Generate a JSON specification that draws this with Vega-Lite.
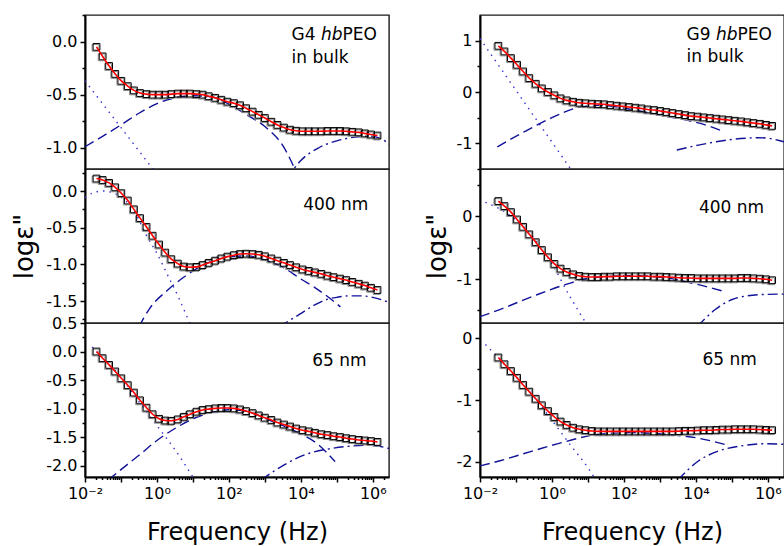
{
"$schema":"https://vega.github.io/schema/vega-lite/v6.json",
"padding":{"left":11,"top":6,"right":0,"bottom":0},
"config":{"font":"DejaVu Sans","view":{"stroke":"#1a1a1a","strokeWidth":1.4},
"axis":{"labelFont":"DejaVu Sans","labelFontSize":16,"labelColor":"#000","domainColor":"#000","domainWidth":2,"tickColor":"#000","tickWidth":1.5,"grid":false,"labelFlush":false,"labelOverlap":false,"labelPadding":3,"titleFont":"DejaVu Sans","titleFontWeight":"normal","titleColor":"#000"}},
"datasets":{
"A":[{"c":"p","x":-1.68,"y":-0.05},{"c":"p","x":-1.51,"y":-0.14},{"c":"p","x":-1.33,"y":-0.23},{"c":"p","x":-1.16,"y":-0.305},{"c":"p","x":-0.99,"y":-0.37},{"c":"p","x":-0.81,"y":-0.42},{"c":"p","x":-0.64,"y":-0.46},{"c":"p","x":-0.47,"y":-0.485},{"c":"p","x":-0.29,"y":-0.495},{"c":"p","x":-0.12,"y":-0.5},{"c":"p","x":0.06,"y":-0.5},{"c":"p","x":0.23,"y":-0.5},{"c":"p","x":0.4,"y":-0.495},{"c":"p","x":0.58,"y":-0.49},{"c":"p","x":0.75,"y":-0.49},{"c":"p","x":0.92,"y":-0.49},{"c":"p","x":1.1,"y":-0.495},{"c":"p","x":1.27,"y":-0.5},{"c":"p","x":1.44,"y":-0.515},{"c":"p","x":1.62,"y":-0.53},{"c":"p","x":1.79,"y":-0.548},{"c":"p","x":1.96,"y":-0.566},{"c":"p","x":2.14,"y":-0.58},{"c":"p","x":2.31,"y":-0.6},{"c":"p","x":2.48,"y":-0.628},{"c":"p","x":2.66,"y":-0.66},{"c":"p","x":2.83,"y":-0.69},{"c":"p","x":3.0,"y":-0.72},{"c":"p","x":3.18,"y":-0.755},{"c":"p","x":3.35,"y":-0.785},{"c":"p","x":3.53,"y":-0.81},{"c":"p","x":3.7,"y":-0.83},{"c":"p","x":3.87,"y":-0.84},{"c":"p","x":4.05,"y":-0.845},{"c":"p","x":4.22,"y":-0.845},{"c":"p","x":4.39,"y":-0.845},{"c":"p","x":4.57,"y":-0.845},{"c":"p","x":4.74,"y":-0.842},{"c":"p","x":4.91,"y":-0.842},{"c":"p","x":5.09,"y":-0.842},{"c":"p","x":5.26,"y":-0.845},{"c":"p","x":5.43,"y":-0.85},{"c":"p","x":5.61,"y":-0.855},{"c":"p","x":5.78,"y":-0.865},{"c":"p","x":5.95,"y":-0.875},{"c":"p","x":6.13,"y":-0.885},
{"c":"dot","x":-2,"y":-0.37},{"c":"dot","x":0,"y":-1.25},
{"c":"dash","x":-2,"y":-0.99},{"c":"dash","x":-1.5,"y":-0.89},{"c":"dash","x":-1,"y":-0.785},{"c":"dash","x":-0.5,"y":-0.675},{"c":"dash","x":0,"y":-0.585},{"c":"dash","x":0.5,"y":-0.53},{"c":"dash","x":1,"y":-0.51},{"c":"dash","x":1.5,"y":-0.52},{"c":"dash","x":2,"y":-0.59},{"c":"dash","x":2.5,"y":-0.69},{"c":"dash","x":3,"y":-0.8},{"c":"dash","x":3.5,"y":-0.98},{"c":"dash","x":3.9,"y":-1.25},
{"c":"dd","x":3.6,"y":-1.3},{"c":"dd","x":4.0,"y":-1.12},{"c":"dd","x":4.5,"y":-1.0},{"c":"dd","x":5.0,"y":-0.935},{"c":"dd","x":5.5,"y":-0.9},{"c":"dd","x":5.9,"y":-0.89},{"c":"dd","x":6.2,"y":-0.91},{"c":"dd","x":6.5,"y":-0.98}],
"B":[{"c":"p","x":-1.68,"y":0.17},{"c":"p","x":-1.51,"y":0.15},{"c":"p","x":-1.33,"y":0.11},{"c":"p","x":-1.16,"y":0.05},{"c":"p","x":-0.99,"y":-0.03},{"c":"p","x":-0.81,"y":-0.13},{"c":"p","x":-0.64,"y":-0.25},{"c":"p","x":-0.47,"y":-0.37},{"c":"p","x":-0.29,"y":-0.49},{"c":"p","x":-0.12,"y":-0.61},{"c":"p","x":0.06,"y":-0.73},{"c":"p","x":0.23,"y":-0.84},{"c":"p","x":0.4,"y":-0.93},{"c":"p","x":0.58,"y":-0.99},{"c":"p","x":0.75,"y":-1.03},{"c":"p","x":0.92,"y":-1.04},{"c":"p","x":1.1,"y":-1.035},{"c":"p","x":1.27,"y":-1.01},{"c":"p","x":1.44,"y":-0.98},{"c":"p","x":1.62,"y":-0.95},{"c":"p","x":1.79,"y":-0.92},{"c":"p","x":1.96,"y":-0.895},{"c":"p","x":2.14,"y":-0.875},{"c":"p","x":2.31,"y":-0.86},{"c":"p","x":2.48,"y":-0.855},{"c":"p","x":2.66,"y":-0.86},{"c":"p","x":2.83,"y":-0.87},{"c":"p","x":3.0,"y":-0.89},{"c":"p","x":3.18,"y":-0.92},{"c":"p","x":3.35,"y":-0.95},{"c":"p","x":3.53,"y":-0.98},{"c":"p","x":3.7,"y":-1.01},{"c":"p","x":3.87,"y":-1.04},{"c":"p","x":4.05,"y":-1.07},{"c":"p","x":4.22,"y":-1.09},{"c":"p","x":4.39,"y":-1.11},{"c":"p","x":4.57,"y":-1.13},{"c":"p","x":4.74,"y":-1.155},{"c":"p","x":4.91,"y":-1.175},{"c":"p","x":5.09,"y":-1.195},{"c":"p","x":5.26,"y":-1.215},{"c":"p","x":5.43,"y":-1.24},{"c":"p","x":5.61,"y":-1.265},{"c":"p","x":5.78,"y":-1.29},{"c":"p","x":5.95,"y":-1.32},{"c":"p","x":6.13,"y":-1.35},
{"c":"dot","x":-2,"y":-0.09},{"c":"dot","x":-1.8,"y":-0.03},{"c":"dot","x":-1.5,"y":0.0},{"c":"dot","x":-1.2,"y":-0.03},{"c":"dot","x":-0.9,"y":-0.12},{"c":"dot","x":-0.6,"y":-0.3},{"c":"dot","x":-0.3,"y":-0.6},{"c":"dot","x":0,"y":-0.85},{"c":"dot","x":0.3,"y":-1.15},{"c":"dot","x":0.6,"y":-1.45},{"c":"dot","x":0.95,"y":-1.85},
{"c":"dash","x":-0.5,"y":-1.85},{"c":"dash","x":-0.2,"y":-1.6},{"c":"dash","x":0.3,"y":-1.35},{"c":"dash","x":0.85,"y":-1.14},{"c":"dash","x":1.4,"y":-0.98},{"c":"dash","x":2.0,"y":-0.9},{"c":"dash","x":2.5,"y":-0.885},{"c":"dash","x":3.0,"y":-0.94},{"c":"dash","x":3.5,"y":-1.04},{"c":"dash","x":4.0,"y":-1.2},{"c":"dash","x":4.4,"y":-1.32},{"c":"dash","x":4.85,"y":-1.48},{"c":"dash","x":5.1,"y":-1.58},
{"c":"dd","x":3.4,"y":-1.85},{"c":"dd","x":3.97,"y":-1.68},{"c":"dd","x":4.4,"y":-1.55},{"c":"dd","x":4.71,"y":-1.48},{"c":"dd","x":5.0,"y":-1.45},{"c":"dd","x":5.36,"y":-1.43},{"c":"dd","x":5.7,"y":-1.43},{"c":"dd","x":6.0,"y":-1.45},{"c":"dd","x":6.45,"y":-1.52}],
"C":[{"c":"p","x":-1.68,"y":0.0},{"c":"p","x":-1.51,"y":-0.117},{"c":"p","x":-1.33,"y":-0.235},{"c":"p","x":-1.16,"y":-0.35},{"c":"p","x":-0.99,"y":-0.47},{"c":"p","x":-0.81,"y":-0.59},{"c":"p","x":-0.64,"y":-0.72},{"c":"p","x":-0.47,"y":-0.856},{"c":"p","x":-0.29,"y":-0.985},{"c":"p","x":-0.12,"y":-1.1},{"c":"p","x":0.06,"y":-1.18},{"c":"p","x":0.23,"y":-1.21},{"c":"p","x":0.4,"y":-1.215},{"c":"p","x":0.58,"y":-1.19},{"c":"p","x":0.75,"y":-1.145},{"c":"p","x":0.92,"y":-1.1},{"c":"p","x":1.1,"y":-1.055},{"c":"p","x":1.27,"y":-1.025},{"c":"p","x":1.44,"y":-1.01},{"c":"p","x":1.62,"y":-0.997},{"c":"p","x":1.79,"y":-0.99},{"c":"p","x":1.96,"y":-0.99},{"c":"p","x":2.14,"y":-0.997},{"c":"p","x":2.31,"y":-1.015},{"c":"p","x":2.48,"y":-1.045},{"c":"p","x":2.66,"y":-1.08},{"c":"p","x":2.83,"y":-1.12},{"c":"p","x":3.0,"y":-1.16},{"c":"p","x":3.18,"y":-1.2},{"c":"p","x":3.35,"y":-1.245},{"c":"p","x":3.53,"y":-1.28},{"c":"p","x":3.7,"y":-1.315},{"c":"p","x":3.87,"y":-1.35},{"c":"p","x":4.05,"y":-1.38},{"c":"p","x":4.22,"y":-1.4},{"c":"p","x":4.39,"y":-1.425},{"c":"p","x":4.57,"y":-1.45},{"c":"p","x":4.74,"y":-1.465},{"c":"p","x":4.91,"y":-1.485},{"c":"p","x":5.09,"y":-1.5},{"c":"p","x":5.26,"y":-1.52},{"c":"p","x":5.43,"y":-1.535},{"c":"p","x":5.61,"y":-1.55},{"c":"p","x":5.78,"y":-1.56},{"c":"p","x":5.95,"y":-1.57},{"c":"p","x":6.13,"y":-1.585},
{"c":"dot","x":-1.8,"y":0.08},{"c":"dot","x":-1.68,"y":0.0},{"c":"dot","x":-1.0,"y":-0.45},{"c":"dot","x":-0.5,"y":-0.88},{"c":"dot","x":0,"y":-1.3},{"c":"dot","x":0.5,"y":-1.72},{"c":"dot","x":1.0,"y":-2.2},{"c":"dot","x":1.1,"y":-2.3},
{"c":"dash","x":-1.35,"y":-2.25},{"c":"dash","x":-1.0,"y":-2.07},{"c":"dash","x":-0.5,"y":-1.82},{"c":"dash","x":0,"y":-1.56},{"c":"dash","x":0.5,"y":-1.35},{"c":"dash","x":1.0,"y":-1.18},{"c":"dash","x":1.5,"y":-1.07},{"c":"dash","x":2.0,"y":-1.02},{"c":"dash","x":2.5,"y":-1.05},{"c":"dash","x":3.0,"y":-1.17},{"c":"dash","x":3.5,"y":-1.3},{"c":"dash","x":3.92,"y":-1.42},{"c":"dash","x":4.47,"y":-1.625},{"c":"dash","x":4.95,"y":-1.93},
{"c":"dd","x":2.9,"y":-2.25},{"c":"dd","x":3.5,"y":-2.0},{"c":"dd","x":4.16,"y":-1.8},{"c":"dd","x":4.9,"y":-1.695},{"c":"dd","x":5.45,"y":-1.655},{"c":"dd","x":5.9,"y":-1.645},{"c":"dd","x":6.45,"y":-1.7}],
"D":[{"c":"p","x":-1.49,"y":0.9},{"c":"p","x":-1.32,"y":0.79},{"c":"p","x":-1.14,"y":0.66},{"c":"p","x":-0.97,"y":0.53},{"c":"p","x":-0.8,"y":0.4},{"c":"p","x":-0.63,"y":0.27},{"c":"p","x":-0.45,"y":0.16},{"c":"p","x":-0.28,"y":0.07},{"c":"p","x":-0.11,"y":0.0},{"c":"p","x":0.07,"y":-0.065},{"c":"p","x":0.24,"y":-0.124},{"c":"p","x":0.41,"y":-0.163},{"c":"p","x":0.59,"y":-0.19},{"c":"p","x":0.76,"y":-0.21},{"c":"p","x":0.93,"y":-0.22},{"c":"p","x":1.11,"y":-0.228},{"c":"p","x":1.28,"y":-0.235},{"c":"p","x":1.45,"y":-0.24},{"c":"p","x":1.62,"y":-0.254},{"c":"p","x":1.8,"y":-0.267},{"c":"p","x":1.97,"y":-0.28},{"c":"p","x":2.14,"y":-0.293},{"c":"p","x":2.32,"y":-0.306},{"c":"p","x":2.49,"y":-0.32},{"c":"p","x":2.66,"y":-0.34},{"c":"p","x":2.84,"y":-0.352},{"c":"p","x":3.01,"y":-0.37},{"c":"p","x":3.18,"y":-0.39},{"c":"p","x":3.35,"y":-0.41},{"c":"p","x":3.53,"y":-0.43},{"c":"p","x":3.7,"y":-0.45},{"c":"p","x":3.87,"y":-0.47},{"c":"p","x":4.05,"y":-0.48},{"c":"p","x":4.22,"y":-0.495},{"c":"p","x":4.39,"y":-0.508},{"c":"p","x":4.57,"y":-0.52},{"c":"p","x":4.74,"y":-0.534},{"c":"p","x":4.91,"y":-0.547},{"c":"p","x":5.08,"y":-0.56},{"c":"p","x":5.26,"y":-0.573},{"c":"p","x":5.43,"y":-0.59},{"c":"p","x":5.6,"y":-0.605},{"c":"p","x":5.78,"y":-0.62},{"c":"p","x":5.95,"y":-0.64},{"c":"p","x":6.12,"y":-0.66},
{"c":"dot","x":-2,"y":1.04},{"c":"dot","x":0.6,"y":-1.58},
{"c":"dash","x":-1.52,"y":-1.07},{"c":"dash","x":-0.73,"y":-0.76},{"c":"dash","x":0,"y":-0.5},{"c":"dash","x":0.74,"y":-0.3},{"c":"dash","x":1.3,"y":-0.26},{"c":"dash","x":2.22,"y":-0.34},{"c":"dash","x":3.14,"y":-0.47},{"c":"dash","x":3.88,"y":-0.57},{"c":"dash","x":4.3,"y":-0.65},{"c":"dash","x":4.7,"y":-0.75},
{"c":"dd","x":3.47,"y":-1.13},{"c":"dd","x":4.07,"y":-1.035},{"c":"dd","x":4.99,"y":-0.925},{"c":"dd","x":5.4,"y":-0.9},{"c":"dd","x":5.73,"y":-0.89},{"c":"dd","x":6.0,"y":-0.9},{"c":"dd","x":6.45,"y":-0.97}],
"E":[{"c":"p","x":-1.49,"y":0.24},{"c":"p","x":-1.32,"y":0.16},{"c":"p","x":-1.14,"y":0.064},{"c":"p","x":-0.97,"y":-0.053},{"c":"p","x":-0.8,"y":-0.17},{"c":"p","x":-0.63,"y":-0.29},{"c":"p","x":-0.45,"y":-0.415},{"c":"p","x":-0.28,"y":-0.54},{"c":"p","x":-0.11,"y":-0.654},{"c":"p","x":0.07,"y":-0.76},{"c":"p","x":0.24,"y":-0.835},{"c":"p","x":0.41,"y":-0.888},{"c":"p","x":0.59,"y":-0.926},{"c":"p","x":0.76,"y":-0.952},{"c":"p","x":0.93,"y":-0.963},{"c":"p","x":1.11,"y":-0.968},{"c":"p","x":1.28,"y":-0.968},{"c":"p","x":1.45,"y":-0.963},{"c":"p","x":1.62,"y":-0.963},{"c":"p","x":1.8,"y":-0.957},{"c":"p","x":1.97,"y":-0.957},{"c":"p","x":2.14,"y":-0.957},{"c":"p","x":2.32,"y":-0.957},{"c":"p","x":2.49,"y":-0.957},{"c":"p","x":2.66,"y":-0.957},{"c":"p","x":2.84,"y":-0.963},{"c":"p","x":3.01,"y":-0.963},{"c":"p","x":3.18,"y":-0.968},{"c":"p","x":3.35,"y":-0.973},{"c":"p","x":3.53,"y":-0.979},{"c":"p","x":3.7,"y":-0.984},{"c":"p","x":3.87,"y":-0.984},{"c":"p","x":4.05,"y":-0.99},{"c":"p","x":4.22,"y":-0.99},{"c":"p","x":4.39,"y":-0.99},{"c":"p","x":4.57,"y":-0.99},{"c":"p","x":4.74,"y":-0.99},{"c":"p","x":4.91,"y":-0.99},{"c":"p","x":5.08,"y":-0.99},{"c":"p","x":5.26,"y":-0.984},{"c":"p","x":5.43,"y":-0.984},{"c":"p","x":5.6,"y":-0.99},{"c":"p","x":5.78,"y":-0.995},{"c":"p","x":5.95,"y":-1.005},{"c":"p","x":6.12,"y":-1.02},
{"c":"dot","x":-1.85,"y":0.22},{"c":"dot","x":-1.5,"y":0.13},{"c":"dot","x":-1.0,"y":-0.06},{"c":"dot","x":-0.5,"y":-0.35},{"c":"dot","x":0,"y":-0.76},{"c":"dot","x":0.5,"y":-1.28},{"c":"dot","x":1.0,"y":-1.75},
{"c":"dash","x":-2,"y":-1.6},{"c":"dash","x":-1.47,"y":-1.49},{"c":"dash","x":-0.55,"y":-1.28},{"c":"dash","x":0.37,"y":-1.09},{"c":"dash","x":1.11,"y":-0.98},{"c":"dash","x":2.22,"y":-0.946},{"c":"dash","x":3.14,"y":-0.98},{"c":"dash","x":4.07,"y":-1.09},{"c":"dash","x":4.8,"y":-1.2},
{"c":"dd","x":4.05,"y":-1.75},{"c":"dd","x":4.53,"y":-1.49},{"c":"dd","x":4.99,"y":-1.33},{"c":"dd","x":5.4,"y":-1.27},{"c":"dd","x":5.73,"y":-1.25},{"c":"dd","x":6.45,"y":-1.24}],
"F":[{"c":"p","x":-1.49,"y":-0.31},{"c":"p","x":-1.32,"y":-0.42},{"c":"p","x":-1.14,"y":-0.53},{"c":"p","x":-0.97,"y":-0.64},{"c":"p","x":-0.8,"y":-0.757},{"c":"p","x":-0.63,"y":-0.865},{"c":"p","x":-0.45,"y":-0.98},{"c":"p","x":-0.28,"y":-1.086},{"c":"p","x":-0.11,"y":-1.18},{"c":"p","x":0.07,"y":-1.276},{"c":"p","x":0.24,"y":-1.35},{"c":"p","x":0.41,"y":-1.405},{"c":"p","x":0.59,"y":-1.45},{"c":"p","x":0.76,"y":-1.476},{"c":"p","x":0.93,"y":-1.49},{"c":"p","x":1.11,"y":-1.503},{"c":"p","x":1.28,"y":-1.51},{"c":"p","x":1.45,"y":-1.51},{"c":"p","x":1.62,"y":-1.51},{"c":"p","x":1.8,"y":-1.51},{"c":"p","x":1.97,"y":-1.51},{"c":"p","x":2.14,"y":-1.51},{"c":"p","x":2.32,"y":-1.51},{"c":"p","x":2.49,"y":-1.51},{"c":"p","x":2.66,"y":-1.51},{"c":"p","x":2.84,"y":-1.51},{"c":"p","x":3.01,"y":-1.51},{"c":"p","x":3.18,"y":-1.51},{"c":"p","x":3.35,"y":-1.51},{"c":"p","x":3.53,"y":-1.505},{"c":"p","x":3.7,"y":-1.5},{"c":"p","x":3.87,"y":-1.5},{"c":"p","x":4.05,"y":-1.495},{"c":"p","x":4.22,"y":-1.49},{"c":"p","x":4.39,"y":-1.49},{"c":"p","x":4.57,"y":-1.485},{"c":"p","x":4.74,"y":-1.48},{"c":"p","x":4.91,"y":-1.48},{"c":"p","x":5.08,"y":-1.475},{"c":"p","x":5.26,"y":-1.475},{"c":"p","x":5.43,"y":-1.475},{"c":"p","x":5.6,"y":-1.475},{"c":"p","x":5.78,"y":-1.48},{"c":"p","x":5.95,"y":-1.485},{"c":"p","x":6.12,"y":-1.49},
{"c":"dot","x":-1.85,"y":-0.1},{"c":"dot","x":-1.0,"y":-0.62},{"c":"dot","x":-0.5,"y":-0.95},{"c":"dot","x":0,"y":-1.33},{"c":"dot","x":0.5,"y":-1.72},{"c":"dot","x":1.0,"y":-2.1},{"c":"dot","x":1.2,"y":-2.28},
{"c":"dash","x":-2,"y":-2.07},{"c":"dash","x":-1.47,"y":-1.99},{"c":"dash","x":-0.55,"y":-1.83},{"c":"dash","x":0.37,"y":-1.676},{"c":"dash","x":1.3,"y":-1.556},{"c":"dash","x":2.22,"y":-1.53},{"c":"dash","x":3.14,"y":-1.556},{"c":"dash","x":4.07,"y":-1.62},{"c":"dash","x":4.8,"y":-1.72},
{"c":"dd","x":3.5,"y":-2.3},{"c":"dd","x":4.07,"y":-1.99},{"c":"dd","x":4.62,"y":-1.83},{"c":"dd","x":5.27,"y":-1.745},{"c":"dd","x":5.91,"y":-1.71},{"c":"dd","x":6.45,"y":-1.72}]
},
"hconcat":[
{"vconcat":[
{"width":304,"height":154,"data":{"name":"A"},
"encoding":{"x":{"field":"x","type":"quantitative","scale":{"domain":[-2,6.45],"nice":false,"zero":false},"axis":null},
"y":{"field":"y","type":"quantitative","scale":{"domain":[-1.2,0.25],"nice":false,"zero":false},"axis":{"title":null,"values":[0.25,0,-0.25,-0.5,-0.75,-1],"labelExpr":"datum.value*2==round(datum.value*2) ? replace(format(datum.value,'.1f'),'−','-') : ''","tickSize":{"condition":{"test":"datum.value*2==round(datum.value*2)","value":5},"value":3}}}},
"layer":[
{"transform":[{"filter":"datum.c!='p'"}],"mark":{"type":"line","clip":true,"interpolate":"monotone","strokeWidth":1.4},"encoding":{"detail":{"field":"c"},"color":{"field":"c","type":"nominal","scale":{"domain":["dot","dash","dd"],"range":["#3535d5","#121299","#121299"]},"legend":null},"strokeDash":{"field":"c","type":"nominal","scale":{"domain":["dot","dash","dd"],"range":[[1.5,5],[10,5],[10,4,2,4]]},"legend":null}}},
{"transform":[{"filter":"datum.c=='p'"}],"mark":{"type":"point","shape":"square","size":46,"filled":false,"stroke":"#8a8a8a","strokeWidth":1,"opacity":1,"xOffset":-1,"yOffset":1}},
{"transform":[{"filter":"datum.c=='p'"}],"mark":{"type":"point","shape":"square","size":46,"filled":false,"stroke":"#000","strokeWidth":1,"opacity":1}},
{"transform":[{"filter":"datum.c=='p'"}],"mark":{"type":"line","color":"#ff0000","strokeWidth":1.6,"interpolate":"monotone"}},
{"data":{"values":[{"x":3.74,"y":0.01,"t":"G4"},{"x":5.16,"y":0.01,"t":"PEO"},{"x":3.74,"y":-0.198,"t":"in bulk"}]},"mark":{"type":"text","align":"left","baseline":"alphabetic","fontSize":17,"font":"DejaVu Sans","color":"#000"},"encoding":{"text":{"field":"t"}}},
{"data":{"values":[{"x":4.56,"y":0.01,"t":"hb"}]},"mark":{"type":"text","align":"left","baseline":"alphabetic","fontSize":17,"fontStyle":"italic","font":"DejaVu Sans","color":"#000"},"encoding":{"text":{"field":"t"}}}
]},
{"width":304,"height":154,"data":{"name":"B"},
"encoding":{"x":{"field":"x","type":"quantitative","scale":{"domain":[-2,6.45],"nice":false,"zero":false},"axis":null},
"y":{"field":"y","type":"quantitative","scale":{"domain":[-1.8,0.3],"nice":false,"zero":false},"axis":{"title":"logε\"","titleFontSize":26,"titlePadding":8,"values":[0.25,0,-0.25,-0.5,-0.75,-1,-1.25,-1.5,-1.75],"labelExpr":"datum.value*2==round(datum.value*2) ? replace(format(datum.value,'.1f'),'−','-') : ''","tickSize":{"condition":{"test":"datum.value*2==round(datum.value*2)","value":5},"value":3}}}},
"layer":[
{"transform":[{"filter":"datum.c!='p'"}],"mark":{"type":"line","clip":true,"interpolate":"monotone","strokeWidth":1.4},"encoding":{"detail":{"field":"c"},"color":{"field":"c","type":"nominal","scale":{"domain":["dot","dash","dd"],"range":["#3535d5","#121299","#121299"]},"legend":null},"strokeDash":{"field":"c","type":"nominal","scale":{"domain":["dot","dash","dd"],"range":[[1.5,5],[10,5],[10,4,2,4]]},"legend":null}}},
{"transform":[{"filter":"datum.c=='p'"}],"mark":{"type":"point","shape":"square","size":46,"filled":false,"stroke":"#8a8a8a","strokeWidth":1,"opacity":1,"xOffset":-1,"yOffset":1}},
{"transform":[{"filter":"datum.c=='p'"}],"mark":{"type":"point","shape":"square","size":46,"filled":false,"stroke":"#000","strokeWidth":1,"opacity":1}},
{"transform":[{"filter":"datum.c=='p'"}],"mark":{"type":"line","color":"#ff0000","strokeWidth":1.6,"interpolate":"monotone"}},
{"data":{"values":[{"x":4.97,"y":-0.26,"t":"400 nm"}]},"mark":{"type":"text","align":"center","baseline":"alphabetic","fontSize":17,"font":"DejaVu Sans","color":"#000"},"encoding":{"text":{"field":"t"}}}
]},
{"width":304,"height":154,"data":{"name":"C"},
"encoding":{"x":{"field":"x","type":"quantitative","scale":{"domain":[-2,6.45],"nice":false,"zero":false},"axis":{"title":"Frequency (Hz)","titleFontSize":24,"titlePadding":19,"values":[-2,-1.699,-1.523,-1.398,-1.301,-1.222,-1.155,-1.097,-1.046,-1,-0.699,-0.523,-0.398,-0.301,-0.222,-0.155,-0.097,-0.046,0,0.301,0.477,0.602,0.699,0.778,0.845,0.903,0.954,1,1.301,1.477,1.602,1.699,1.778,1.845,1.903,1.954,2,2.301,2.477,2.602,2.699,2.778,2.845,2.903,2.954,3,3.301,3.477,3.602,3.699,3.778,3.845,3.903,3.954,4,4.301,4.477,4.602,4.699,4.778,4.845,4.903,4.954,5,5.301,5.477,5.602,5.699,5.778,5.845,5.903,5.954,6,6.301],"labelExpr":"datum.value==-2 ? '10⁻²' : datum.value==0 ? '10⁰' : datum.value==2 ? '10²' : datum.value==4 ? '10⁴' : datum.value==6 ? '10⁶' : ''","tickSize":{"condition":{"test":"datum.value==round(datum.value)","value":5},"value":2.5}}},
"y":{"field":"y","type":"quantitative","scale":{"domain":[-2.2,0.5],"nice":false,"zero":false},"axis":{"title":null,"values":[0.5,0.25,0,-0.25,-0.5,-0.75,-1,-1.25,-1.5,-1.75,-2],"labelExpr":"datum.value*2==round(datum.value*2) ? replace(format(datum.value,'.1f'),'−','-') : ''","tickSize":{"condition":{"test":"datum.value*2==round(datum.value*2)","value":5},"value":3}}}},
"layer":[
{"transform":[{"filter":"datum.c!='p'"}],"mark":{"type":"line","clip":true,"interpolate":"monotone","strokeWidth":1.4},"encoding":{"detail":{"field":"c"},"color":{"field":"c","type":"nominal","scale":{"domain":["dot","dash","dd"],"range":["#3535d5","#121299","#121299"]},"legend":null},"strokeDash":{"field":"c","type":"nominal","scale":{"domain":["dot","dash","dd"],"range":[[1.5,5],[10,5],[10,4,2,4]]},"legend":null}}},
{"transform":[{"filter":"datum.c=='p'"}],"mark":{"type":"point","shape":"square","size":46,"filled":false,"stroke":"#8a8a8a","strokeWidth":1,"opacity":1,"xOffset":-1,"yOffset":1}},
{"transform":[{"filter":"datum.c=='p'"}],"mark":{"type":"point","shape":"square","size":46,"filled":false,"stroke":"#000","strokeWidth":1,"opacity":1}},
{"transform":[{"filter":"datum.c=='p'"}],"mark":{"type":"line","color":"#ff0000","strokeWidth":1.6,"interpolate":"monotone"}},
{"data":{"values":[{"x":5.07,"y":-0.25,"t":"65 nm"}]},"mark":{"type":"text","align":"center","baseline":"alphabetic","fontSize":17,"font":"DejaVu Sans","color":"#000"},"encoding":{"text":{"field":"t"}}}
]}
],"spacing":0,"bounds":"flush"},
{"vconcat":[
{"width":304,"height":154,"data":{"name":"D"},
"encoding":{"x":{"field":"x","type":"quantitative","scale":{"domain":[-2,6.45],"nice":false,"zero":false},"axis":null},
"y":{"field":"y","type":"quantitative","scale":{"domain":[-1.5,1.5],"nice":false,"zero":false},"axis":{"title":null,"values":[1,0.5,0,-0.5,-1,-1.5],"labelExpr":"datum.value==round(datum.value) ? '' + datum.value : ''","tickSize":{"condition":{"test":"datum.value==round(datum.value)","value":5},"value":3}}}},
"layer":[
{"transform":[{"filter":"datum.c!='p'"}],"mark":{"type":"line","clip":true,"interpolate":"monotone","strokeWidth":1.4},"encoding":{"detail":{"field":"c"},"color":{"field":"c","type":"nominal","scale":{"domain":["dot","dash","dd"],"range":["#3535d5","#121299","#121299"]},"legend":null},"strokeDash":{"field":"c","type":"nominal","scale":{"domain":["dot","dash","dd"],"range":[[1.5,5],[10,5],[10,4,2,4]]},"legend":null}}},
{"transform":[{"filter":"datum.c=='p'"}],"mark":{"type":"point","shape":"square","size":46,"filled":false,"stroke":"#8a8a8a","strokeWidth":1,"opacity":1,"xOffset":-1,"yOffset":1}},
{"transform":[{"filter":"datum.c=='p'"}],"mark":{"type":"point","shape":"square","size":46,"filled":false,"stroke":"#000","strokeWidth":1,"opacity":1}},
{"transform":[{"filter":"datum.c=='p'"}],"mark":{"type":"line","color":"#ff0000","strokeWidth":1.6,"interpolate":"monotone"}},
{"data":{"values":[{"x":3.74,"y":1.016,"t":"G9"},{"x":5.16,"y":1.016,"t":"PEO"},{"x":3.74,"y":0.586,"t":"in bulk"}]},"mark":{"type":"text","align":"left","baseline":"alphabetic","fontSize":17,"font":"DejaVu Sans","color":"#000"},"encoding":{"text":{"field":"t"}}},
{"data":{"values":[{"x":4.56,"y":1.016,"t":"hb"}]},"mark":{"type":"text","align":"left","baseline":"alphabetic","fontSize":17,"fontStyle":"italic","font":"DejaVu Sans","color":"#000"},"encoding":{"text":{"field":"t"}}}
]},
{"width":304,"height":154,"data":{"name":"E"},
"encoding":{"x":{"field":"x","type":"quantitative","scale":{"domain":[-2,6.45],"nice":false,"zero":false},"axis":null},
"y":{"field":"y","type":"quantitative","scale":{"domain":[-1.7,0.75],"nice":false,"zero":false},"axis":{"title":"logε\"","titleFontSize":26,"titlePadding":6,"values":[0.5,0,-0.5,-1,-1.5],"labelExpr":"datum.value==round(datum.value) ? '' + datum.value : ''","tickSize":{"condition":{"test":"datum.value==round(datum.value)","value":5},"value":3}}}},
"layer":[
{"transform":[{"filter":"datum.c!='p'"}],"mark":{"type":"line","clip":true,"interpolate":"monotone","strokeWidth":1.4},"encoding":{"detail":{"field":"c"},"color":{"field":"c","type":"nominal","scale":{"domain":["dot","dash","dd"],"range":["#3535d5","#121299","#121299"]},"legend":null},"strokeDash":{"field":"c","type":"nominal","scale":{"domain":["dot","dash","dd"],"range":[[1.5,5],[10,5],[10,4,2,4]]},"legend":null}}},
{"transform":[{"filter":"datum.c=='p'"}],"mark":{"type":"point","shape":"square","size":46,"filled":false,"stroke":"#8a8a8a","strokeWidth":1,"opacity":1,"xOffset":-1,"yOffset":1}},
{"transform":[{"filter":"datum.c=='p'"}],"mark":{"type":"point","shape":"square","size":46,"filled":false,"stroke":"#000","strokeWidth":1,"opacity":1}},
{"transform":[{"filter":"datum.c=='p'"}],"mark":{"type":"line","color":"#ff0000","strokeWidth":1.6,"interpolate":"monotone"}},
{"data":{"values":[{"x":4.99,"y":0.053,"t":"400 nm"}]},"mark":{"type":"text","align":"center","baseline":"alphabetic","fontSize":17,"font":"DejaVu Sans","color":"#000"},"encoding":{"text":{"field":"t"}}}
]},
{"width":304,"height":154,"data":{"name":"F"},
"encoding":{"x":{"field":"x","type":"quantitative","scale":{"domain":[-2,6.45],"nice":false,"zero":false},"axis":{"title":"Frequency (Hz)","titleFontSize":24,"titlePadding":19,"values":[-2,-1.699,-1.523,-1.398,-1.301,-1.222,-1.155,-1.097,-1.046,-1,-0.699,-0.523,-0.398,-0.301,-0.222,-0.155,-0.097,-0.046,0,0.301,0.477,0.602,0.699,0.778,0.845,0.903,0.954,1,1.301,1.477,1.602,1.699,1.778,1.845,1.903,1.954,2,2.301,2.477,2.602,2.699,2.778,2.845,2.903,2.954,3,3.301,3.477,3.602,3.699,3.778,3.845,3.903,3.954,4,4.301,4.477,4.602,4.699,4.778,4.845,4.903,4.954,5,5.301,5.477,5.602,5.699,5.778,5.845,5.903,5.954,6,6.301],"labelExpr":"datum.value==-2 ? '10⁻²' : datum.value==0 ? '10⁰' : datum.value==2 ? '10²' : datum.value==4 ? '10⁴' : datum.value==6 ? '10⁶' : ''","tickSize":{"condition":{"test":"datum.value==round(datum.value)","value":5},"value":2.5}}},
"y":{"field":"y","type":"quantitative","scale":{"domain":[-2.25,0.25],"nice":false,"zero":false},"axis":{"title":null,"values":[0,-0.5,-1,-1.5,-2],"labelExpr":"datum.value==round(datum.value) ? '' + datum.value : ''","tickSize":{"condition":{"test":"datum.value==round(datum.value)","value":5},"value":3}}}},
"layer":[
{"transform":[{"filter":"datum.c!='p'"}],"mark":{"type":"line","clip":true,"interpolate":"monotone","strokeWidth":1.4},"encoding":{"detail":{"field":"c"},"color":{"field":"c","type":"nominal","scale":{"domain":["dot","dash","dd"],"range":["#3535d5","#121299","#121299"]},"legend":null},"strokeDash":{"field":"c","type":"nominal","scale":{"domain":["dot","dash","dd"],"range":[[1.5,5],[10,5],[10,4,2,4]]},"legend":null}}},
{"transform":[{"filter":"datum.c=='p'"}],"mark":{"type":"point","shape":"square","size":46,"filled":false,"stroke":"#8a8a8a","strokeWidth":1,"opacity":1,"xOffset":-1,"yOffset":1}},
{"transform":[{"filter":"datum.c=='p'"}],"mark":{"type":"point","shape":"square","size":46,"filled":false,"stroke":"#000","strokeWidth":1,"opacity":1}},
{"transform":[{"filter":"datum.c=='p'"}],"mark":{"type":"line","color":"#ff0000","strokeWidth":1.6,"interpolate":"monotone"}},
{"data":{"values":[{"x":4.94,"y":-0.433,"t":"65 nm"}]},"mark":{"type":"text","align":"center","baseline":"alphabetic","fontSize":17,"font":"DejaVu Sans","color":"#000"},"encoding":{"text":{"field":"t"}}}
]}
],"spacing":0,"bounds":"flush"}
],
"spacing":33
}
